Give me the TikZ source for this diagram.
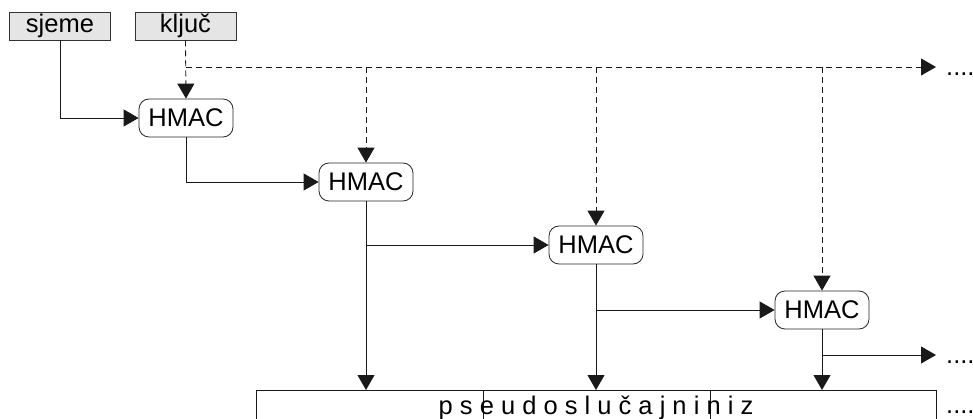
\documentclass[tikz,border=0pt]{standalone}
\usepackage{fontspec}
\setmainfont{Liberation Sans}
\usetikzlibrary{arrows.meta}
\begin{document}
\begin{tikzpicture}[x=1pt,y=-1pt,
  every node/.style={font=\fontsize{25.5}{30}\selectfont, inner sep=0pt, text=black},
  inbox/.style={draw=black!80, fill=black!10, line width=0.8pt, minimum width=101pt, minimum height=28pt},
  hmac/.style={draw=black!85, line width=0.8pt, rounded corners=10pt, minimum width=94pt, minimum height=38pt},
  flow/.style={draw=black!90, line width=0.9pt, -{Triangle[length=15pt,width=17pt]}},
  plain/.style={draw=black!90, line width=0.9pt},
  keyline/.style={flow, dash pattern=on 6pt off 4pt},
  dots/.style={anchor=base west}]
\useasboundingbox (0,0) rectangle (973,419);
\clip (0,0) rectangle (973,419);

% inputs
\node[inbox] (seed) at (60,26) {sjeme};
\node[inbox] (key) at (185.5,26) {ključ};

% HMAC chain
\node[hmac] (h1) at (186,118) {HMAC};
\node[hmac] (h2) at (366,182) {HMAC};
\node[hmac] (h3) at (596,245) {HMAC};
\node[hmac] (h4) at (822,310) {HMAC};

% output string
\node[draw=black!90, line width=0.9pt, anchor=north west, minimum width=680pt, minimum height=60pt] (out) at (256,390) {};
\draw[plain] (483,390) -- (483,450);
\draw[plain] (710,390) -- (710,450);
\node[anchor=base] (txt) at (596,414) {p s e u d o s l u č a j n i n i z};

% key distribution
\coordinate (kbus) at (186,67);
\coordinate (kend) at (936,67);
\draw[keyline] (key.south) -- (h1.north);
\draw[keyline] (kbus) -- (kend);
\draw[keyline] (h2.north |- kbus) -- (h2.north);
\draw[keyline] (h3.north |- kbus) -- (h3.north);
\draw[keyline] (h4.north |- kbus) -- (h4.north);
\node[dots] (kdots) at (946,76) {....};

% seed into the first HMAC
\draw[flow] (seed.south) |- (h1.west);

% chaining
\draw[flow] (h1.south) |- (h2.west);
\draw[flow] (h2.south) -- (h2.south |- out.north);
\draw[flow] (h2.south |- h3.west) -- (h3.west);
\draw[flow] (h3.south) -- (h3.south |- out.north);
\draw[flow] (h3.south |- h4.west) -- (h4.west);
\draw[flow] (h4.south) -- (h4.south |- out.north);
\coordinate (cend) at (936,355);
\draw[flow] (h4.south |- cend) -- (cend);
\node[dots] (cdots) at (946,363) {....};
\node[dots] (odots) at (946,413) {....};
\end{tikzpicture}
\end{document}
